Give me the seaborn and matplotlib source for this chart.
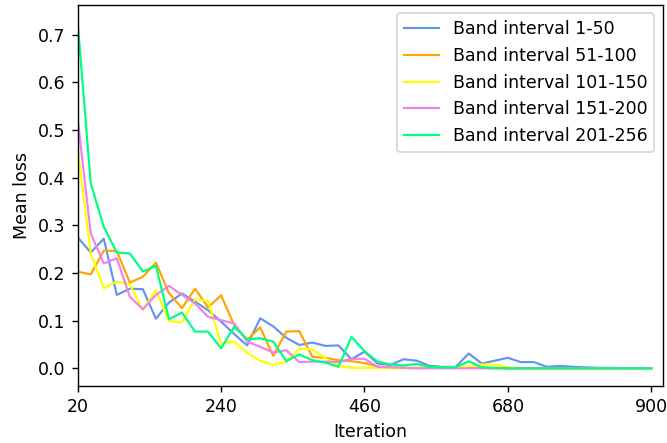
import numpy as np
import pandas as pd
import matplotlib
matplotlib.use("Agg")
import matplotlib.pyplot as plt
import seaborn as sns

iterations = list(range(20, 901, 20))

band_1_50 = [0.275, 0.243, 0.272, 0.154, 0.167, 0.166, 0.104, 0.138, 0.157, 0.140,
             0.122, 0.098, 0.072, 0.048, 0.105, 0.088, 0.064, 0.049, 0.054, 0.047,
             0.048, 0.019, 0.035, 0.010, 0.007, 0.019, 0.016, 0.005, 0.003, 0.003,
             0.031, 0.010, 0.016, 0.022, 0.013, 0.013, 0.003, 0.005, 0.003, 0.002,
             0.001, 0.001, 0.000, 0.000, 0.000]
band_51_100 = [0.203, 0.197, 0.247, 0.246, 0.180, 0.192, 0.222, 0.158, 0.126, 0.167,
               0.128, 0.153, 0.091, 0.060, 0.086, 0.026, 0.077, 0.078, 0.024, 0.022,
               0.017, 0.015, 0.011, 0.004, 0.002, 0.001, 0.001, 0.001, 0.001, 0.001,
               0.001, 0.001, 0.000, 0.000, 0.000, 0.000, 0.000, 0.000, 0.000, 0.000,
               0.000, 0.000, 0.000, 0.000, 0.000]
band_101_150 = [0.460, 0.241, 0.168, 0.182, 0.176, 0.122, 0.164, 0.099, 0.096, 0.145,
                0.141, 0.052, 0.056, 0.033, 0.016, 0.007, 0.014, 0.041, 0.040, 0.021,
                0.005, 0.001, 0.001, 0.001, 0.000, 0.000, 0.000, 0.001, 0.001, 0.002,
                0.004, 0.008, 0.008, 0.002, 0.000, 0.000, 0.000, 0.000, 0.000, 0.000,
                0.000, 0.000, 0.000, 0.000, 0.000]
band_151_200 = [0.524, 0.283, 0.220, 0.231, 0.150, 0.124, 0.154, 0.173, 0.154, 0.136,
                0.108, 0.101, 0.094, 0.056, 0.045, 0.033, 0.038, 0.013, 0.014, 0.014,
                0.013, 0.020, 0.020, 0.003, 0.002, 0.001, 0.000, 0.000, 0.000, 0.000,
                0.000, 0.000, 0.000, 0.000, 0.000, 0.000, 0.000, 0.000, 0.000, 0.000,
                0.000, 0.000, 0.000, 0.000, 0.000]
band_201_256 = [0.725, 0.388, 0.297, 0.243, 0.241, 0.203, 0.215, 0.103, 0.117, 0.077,
                0.077, 0.042, 0.087, 0.061, 0.063, 0.056, 0.015, 0.029, 0.017, 0.012,
                0.003, 0.066, 0.036, 0.014, 0.008, 0.006, 0.009, 0.003, 0.002, 0.002,
                0.015, 0.002, 0.001, 0.000, 0.000, 0.000, 0.000, 0.000, 0.000, 0.000,
                0.000, 0.000, 0.000, 0.000, 0.000]

series_names = ["Band interval 1-50", "Band interval 51-100", "Band interval 101-150",
                "Band interval 151-200", "Band interval 201-256"]
series_values = [band_1_50, band_51_100, band_101_150, band_151_200, band_201_256]
colors = ["cornflowerblue", "orange", "yellow", "violet", "springgreen"]
xtick_values = [20, 240, 460, 680, 900]

dpi = 125
fig = plt.figure(figsize=(667 / dpi, 443 / dpi), dpi=dpi)
ax = fig.add_axes([77.7 / 667, 1 - 385.7 / 443, (663 - 77.7) / 667, (385.7 - 4.7) / 443])

for name, vals, col in zip(series_names, series_values, colors):
    df = pd.DataFrame({"Iteration": iterations, "Mean loss": vals})
    sns.lineplot(data=df, x="Iteration", y="Mean loss", color=col, label=name,
                 linewidth=1.25, ax=ax)

ax.set_xlim(20, 918)
ax.set_ylim(-0.0365, 0.763)
ax.set_xticks(xtick_values)
ax.set_xlabel("Iteration")
ax.set_ylabel("Mean loss")
ax.legend(loc="upper right")

fig.savefig("out.png", dpi=dpi)
